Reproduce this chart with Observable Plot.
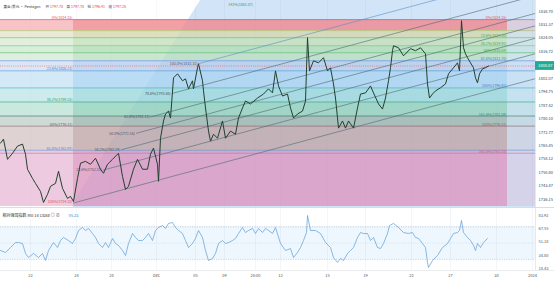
<!DOCTYPE html>
<html><head><meta charset="utf-8">
<script src="https://cdn.jsdelivr.net/npm/d3@7"></script>
<script src="https://cdn.jsdelivr.net/npm/@observablehq/plot@0.6"></script>
<style>
body{margin:0;background:#fff;}
#c svg{display:block;}
</style>
</head><body><div id="c"></div>
<script>
// ---- data ----
const priceBar = [0,1.5,3.5,6,8.5,11,12.5,13.5,16,17.5,20,21.5,23.5,25,27.5,29,31,33.5,35,36.5,38.5,40,42.5,45,47.5,50,51.5,53.5,56,59,61,62.5,64,66.5,68.5,71,73.5,75,76.5,78.5,79,80,81.5,82.5,84,85,86.5,88.5,91,92.5,94,96,96.5,98.5,99,101,101.5,102.5,104,105,106.5,108.5,111,112.5,115,117.5,119,121,122.5,125,128.5,131.5,134,136,137.5,139,141,143.5,145,146.5,148.5,151,152.5,153.5,154.5,156.5,159,161.5,163.5,165,166.5,167.5,168.5,169,171,172.5,174,176.5,178.5,180,182.5,185,186.5,189,191,192.5,194,195,196,196.5,199,201.5,205,207.5,210,212.5,213.5,214.5,216,217.5,220,222.5,224,226.5,228.5,229.5,230.5,231.5,232.5,233.5,235,236.5,237.5,238.5,239.5,241,242.5,244];
const priceClose = [1766.8,1769.0,1758.0,1761.3,1765.2,1766.3,1760.8,1752.6,1747.6,1744.9,1740.5,1734.5,1738.9,1743.3,1744.9,1751.5,1742.2,1736.7,1737.8,1735.0,1747.6,1755.9,1756.9,1755.3,1758.6,1752.6,1750.4,1755.3,1758.0,1761.3,1748.7,1741.6,1743.3,1752.6,1758.0,1752.6,1752.6,1760.8,1764.1,1755.3,1746.0,1769.5,1778.9,1782.7,1784.3,1780.5,1802.4,1804.6,1800.8,1801.9,1796.4,1800.8,1796.4,1807.9,1810.1,1800.8,1795.3,1786.0,1773.4,1767.9,1771.7,1769.5,1778.9,1769.5,1773.4,1771.7,1780.5,1786.0,1789.8,1788.2,1791.4,1793.6,1796.4,1794.2,1806.2,1798.0,1792.5,1793.6,1786.0,1780.5,1782.7,1784.3,1789.8,1824.3,1806.2,1811.7,1810.6,1813.4,1806.2,1807.9,1799.1,1791.4,1780.5,1775.0,1778.9,1775.0,1778.9,1775.0,1786.0,1793.6,1794.2,1798.0,1794.2,1788.2,1785.4,1791.4,1800.8,1807.9,1817.2,1819.9,1818.8,1814.4,1818.3,1817.2,1818.8,1815.5,1799.1,1791.4,1793.6,1795.3,1797.0,1799.1,1804.6,1807.9,1810.6,1806.2,1833.6,1818.8,1815.5,1813.4,1810.6,1807.9,1802.4,1799.7,1804.6,1807.3,1807.9,1808.9];
const rsiBar = [0,2.5,5,7.5,9,11,12.5,14,16.5,19,21,22.5,24,26.5,28.5,30,31.5,34,36,37.5,39,41,42.5,44,46,47.5,49,51,52.5,54,56,57.5,59,61,62.5,64,66,67.5,69,71,72.5,74,76,77.5,79,81,82.5,84,86,87.5,89,91,92.5,94,96,97.5,99,101,102.5,104,106,107.5,109,111,112.5,114,116,117.5,119,121,122.5,124,126,127.5,129,131,132.5,134,136,137.5,140,142.5,145,146.5,148.5,150,151.5,153,153.5,155,157.5,160,162.5,165,166.5,168.5,170,171.5,173.5,175,176.5,178.5,180,181.5,183.5,185,186.5,188.5,190,191.5,193.5,194.5,196.5,199,201.5,204,206,207.5,209,211,212.5,213.5,214,216,218.5,221,223.5,225,226.5,228.5,229.5,230.5,231.5,233.5,235,236.5,237.5,238.5,240,241.5,243.5];
const rsiValue = [40.9,38.5,44.6,50.7,50.7,49.5,37.3,32.3,37.3,32.3,37.3,28.6,40.9,50.7,44.6,53.2,56.9,53.2,49.5,55.7,65.5,69.2,65.5,68.0,61.8,56.9,49.5,44.6,50.7,44.6,55.7,49.5,47.1,40.9,34.8,49.5,61.8,56.9,53.2,53.2,56.9,61.8,53.2,65.5,69.2,71.6,68.0,74.1,75.3,69.2,65.5,61.8,53.2,44.6,49.5,55.7,65.5,56.9,40.9,28.6,31.1,37.3,49.5,53.2,49.5,50.7,53.2,55.7,61.8,69.2,63.0,65.5,68.0,61.8,68.0,63.0,68.0,65.5,61.8,69.2,49.5,40.9,43.3,32.3,38.5,44.6,53.2,63.0,83.9,65.5,65.5,61.8,50.7,44.6,32.3,26.2,31.1,28.6,37.3,40.9,44.6,56.9,63.0,61.8,61.8,53.2,56.9,44.6,43.3,49.5,61.8,71.6,74.1,69.2,63.0,61.8,63.0,56.9,55.7,49.5,44.6,26.2,20.0,28.6,34.8,44.6,49.5,55.7,61.8,63.0,65.5,77.8,63.0,56.9,53.2,47.1,40.9,49.5,44.6,50.7,55.7];

const tickBar = [15,38,55.5,78,97.5,112,127.5,140,163.5,182.5,205.5,225,248,266];
const tickLabel = ["22","24","28","Dec","05","09","20:00","12","15","19","22","27","30","2024"];
const priceTicks = [1838.70,1831.37,1824.05,1816.72,1802.07,1794.75,1787.42,1780.10,1772.77,1765.45,1758.12,1750.80,1743.47,1736.15];
const rsiTicks = [83.92,67.55,51.18,34.80,18.43];
const lastPrice = 1808.87;
const rsiLast = "55.23";
const ohlcName = ["开","高","低","收"];
const ohlcValue = ["1797.70","1797.70","1796.41","1797.28"];

// fib levels (horizontal), prices top -> bottom
const levelPrice = [1834.15,1828.13,1824.30,1819.92,1816.09,1811.70,1806.23,1796.92,1789.25,1781.59,1776.11,1762.97,1761.33,1732.31];
const bandColor  = ["#ef8790","#d3d8ad","#c4dfba","#b0ddb4","#bde0c1","#b7cfeb","#a9d4f1","#9cd8dc","#93d1bd","#9db5ad","#c0a5a8","#c7a0bd","#dc96c0"];
const lineColor  = ["#e05566","#b0b060","#5cbf6a","#7cc784","#4fb865","#5b8fd6","#5b8fd6","#3fb0c0","#2fa37f","#3f6f62","#7f5f66","#6a8fd0","#d06a9a"];
const leftLabPrice = [1834.15,1806.23,1789.25,1776.11,1762.97,1734.20];
const leftLabPct = ["0%","23.6%","38.2%","50%","61.8%","100%"];
const leftLabColor = ["#e05566","#4a7fd0","#2fa36b","#6a5a70","#6a7fd0","#e05566"];
const rightLabPrice = [1834.15,1824.30,1819.92,1816.09,1811.70,1796.92,1781.59,1776.11,1761.33];
const rightLabPct = ["0%","23.6%","38.2%","50%","61.8%","100%","161.8%","200%","261.8%"];
const rightLabColor = ["#e05566","#3faa5a","#3faa5a","#3faa5a","#4a7fd0","#4a7fd0","#2f8f7f","#a05a66","#d05a8a"];

// anchors of the drawings (bar, price)
const lowBar = 36.5, lowPrice = 1734.2;
const peakBar = 99, peakPrice = 1810.1;
const boxEndBar = 253.5;
const fanTopBar = 100;
const channelSlope = 0.2935; // price per bar
const channelFrac = [0,0.236,0.382,0.5,0.618,0.786,1];

// ---- build ----
const xEnd = 267.5, yBot = 1731.75, yTop = 1844.56;
const price = priceBar.map((t,i)=>({t, p:priceClose[i]}));
const rsi = rsiBar.map((t,i)=>({t, v:rsiValue[i]}));
const bands = bandColor.map((c,i)=>({hi:levelPrice[i], lo:levelPrice[i+1], c}));
const levels = levelPrice.slice(0,-1).map((p,i)=>({p, c:lineColor[i]}));
const fan = [{t:lowBar,p:lowPrice},{t:fanTopBar,p:yTop},{t:xEnd,p:yTop}];
const channel = channelFrac.map(f=>{
  const x1 = lowBar + f*(peakBar-lowBar);
  const y1 = lowPrice + f*(peakPrice-lowPrice);
  return {f, x1, y1, x2:xEnd, y2:y1 + channelSlope*(xEnd-x1)};
});
const leftLabs = leftLabPrice.map((p,i)=>({p, s:`${leftLabPct[i]}(${p.toFixed(2)})`, c:leftLabColor[i]}));
const rightLabs = rightLabPrice.map((p,i)=>({p, s:`${rightLabPct[i]}(${p.toFixed(2)})`, c:rightLabColor[i]}));
const font = "'Noto Sans CJK SC','Noto Sans',sans-serif";

// header segments
const hdrFs = 3.6;
const hdrMarks = [Plot.text(["黄金/美元 · Pentagon"], {frameAnchor:"top-left", text:d=>d, dx:3, dy:5, fill:"#333", fontSize:hdrFs})];
const hdrOffsets = [45,66,87,108];
ohlcName.forEach((n,i)=>{
  hdrMarks.push(Plot.text([n], {frameAnchor:"top-left", text:d=>d, dx:hdrOffsets[i], dy:5, fill:"#333", fontSize:hdrFs}));
  hdrMarks.push(Plot.text([ohlcValue[i]], {frameAnchor:"top-left", text:d=>d, dx:hdrOffsets[i]+4.5, dy:5, fill:"#f23645", fontSize:hdrFs}));
});

const main = Plot.plot({
  width:554, height:207, marginTop:0, marginBottom:0, marginLeft:0, marginRight:19,
  x:{domain:[0,xEnd], axis:null},
  y:{domain:[yBot,yTop], axis:"right", ticks:priceTicks, tickSize:0, tickPadding:3, tickFormat:d=>d.toFixed(2), label:null},
  style:{fontFamily:font, fontSize:"4px", color:"#444", background:"#fff"},
  marks:[
    Plot.areaY(fan, {x:"t", y1:yBot, y2:"p", fill:"#d2e4f7"}),
    Plot.ruleX(tickBar, {stroke:"#000", strokeOpacity:0.05, strokeWidth:0.6}),
    Plot.rect(bands, {x1:0, x2:boxEndBar, y1:"lo", y2:"hi", fill:"c", fillOpacity:0.5}),
    Plot.rect(bands, {x1:lowBar, x2:boxEndBar, y1:"lo", y2:"hi", fill:"c", fillOpacity:0.6}),
    Plot.rect(bands, {x1:boxEndBar, x2:xEnd, y1:"lo", y2:"hi", fill:"c", fillOpacity:0.22}),
    Plot.ruleY(levels, {y:"p", x1:0, x2:xEnd, stroke:"c", strokeWidth:0.6}),
    Plot.link(channel, {x1:"x1", y1:"y1", x2:"x2", y2:"y2", stroke:d=>d.f===1?"#5b8fc7":"#4d6a70", strokeWidth:0.6, clip:true}),
    Plot.text(channel.slice(1), {x:"x1", y:"y1", text:d=>`${(d.f*100).toFixed(1)}%(${d.y1.toFixed(2)})`, textAnchor:"end", dx:-1, fill:"#556", fontSize:3.6}),
    Plot.line(price, {x:"t", y:"p", stroke:"#23402f", strokeWidth:1}),
    Plot.ruleY([lastPrice], {stroke:"#f23645", strokeDasharray:"1,1.2", strokeWidth:0.5}),
    Plot.text(leftLabs, {x:lowBar, y:"p", text:"s", fill:"c", textAnchor:"end", lineAnchor:"bottom", dx:-1, dy:-0.5, fontSize:3.6}),
    Plot.text(rightLabs, {x:boxEndBar, y:"p", text:"s", fill:"c", textAnchor:"end", lineAnchor:"bottom", dx:-1, dy:-0.5, fontSize:3.6}),
    Plot.text(["141%(1861.07)"], {x:120, y:1842.3, text:d=>d, fill:"#3a9a5a", fontSize:3.6}),
    Plot.ruleX([xEnd], {stroke:"#d8d8d8", strokeWidth:0.6}),
    Plot.rect([lastPrice], {x1:xEnd, x2:xEnd+9.5, y1:d=>d-2.4, y2:d=>d+2.4, fill:"#22ab94"}),
    Plot.text([lastPrice], {x:xEnd, y:d=>d, text:d=>d.toFixed(2), fill:"#fff", textAnchor:"start", dx:2.5, fontSize:4}),
    ...hdrMarks
  ]
});

const rsiPlot = Plot.plot({
  width:554, height:76, marginTop:0, marginBottom:13, marginLeft:0, marginRight:19,
  x:{domain:[0,xEnd], ticks:tickBar, tickFormat:d=>tickLabel[tickBar.indexOf(d)], tickSize:0, tickPadding:4, label:null},
  y:{domain:[16.34,93.75], axis:"right", ticks:rsiTicks, tickSize:0, tickPadding:3, tickFormat:d=>d.toFixed(2), label:null},
  style:{fontFamily:font, fontSize:"4px", color:"#555", background:"#fff"},
  marks:[
    Plot.ruleX(tickBar, {stroke:"#eef0f3", strokeWidth:0.6}),
    Plot.rect([0], {x1:0, x2:xEnd, y1:30, y2:70, fill:"#2196f3", fillOpacity:0.08}),
    Plot.ruleY([70,30], {x1:0, x2:xEnd, stroke:"#8fa6c0", strokeDasharray:"1.2,1.2", strokeWidth:0.5}),
    Plot.ruleY([50], {x1:0, x2:xEnd, stroke:"#b8c8da", strokeDasharray:"1.2,1.2", strokeWidth:0.4}),
    Plot.line(rsi, {x:"t", y:"v", stroke:"#5b9bd5", strokeWidth:0.7}),
    Plot.ruleY([93.75], {x1:0, x2:xEnd+9.5, stroke:"#cfd3d8", strokeWidth:0.8}),
    Plot.ruleY([16.34], {x1:0, x2:xEnd+9.5, stroke:"#dcdfe3", strokeWidth:0.6}),
    Plot.ruleX([xEnd], {stroke:"#d8d8d8", strokeWidth:0.6}),
    Plot.text(["相对强弱指数 RSI 14 Close ◎ ⊘"], {frameAnchor:"top-left", text:d=>d, dx:2, dy:7, fill:"#333", fontSize:4}),
    Plot.text([rsiLast], {frameAnchor:"top-left", text:d=>d, dx:68, dy:7, fill:"#2f7fd0", fontSize:4})
  ]
});

const c = document.getElementById("c");
c.appendChild(main);
c.appendChild(rsiPlot);
</script>
</body></html>
